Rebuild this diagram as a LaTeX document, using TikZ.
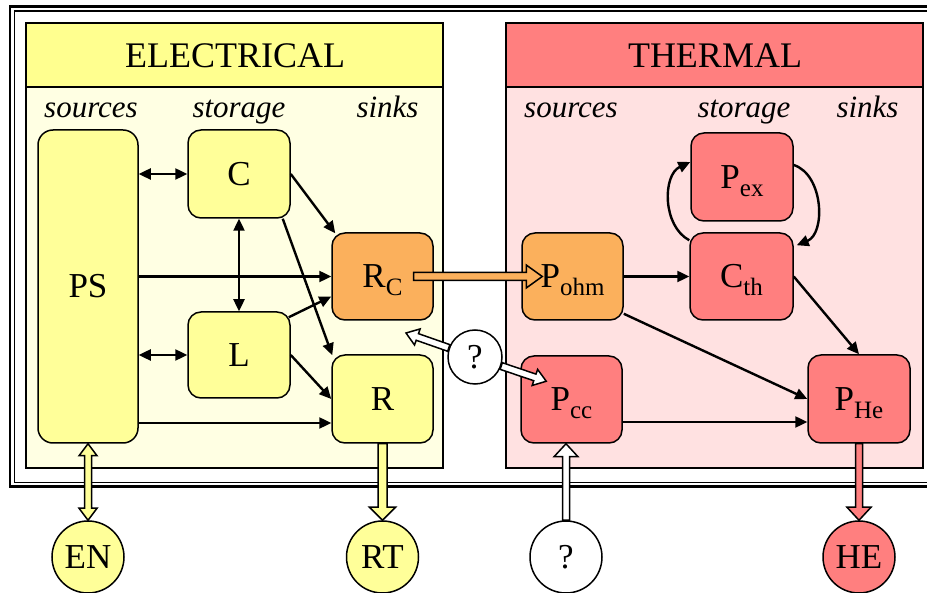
\documentclass[tikz,border=0pt]{standalone}
\usepackage{fontspec}
\setmainfont{Liberation Serif}
\newfontfamily\tnr{Liberation Serif}
\usetikzlibrary{arrows.meta,calc}
\definecolor{elhead}{HTML}{FFFF8F}
\definecolor{elbody}{HTML}{FFFFE3}
\definecolor{elnode}{HTML}{FFFF99}
\definecolor{thhead}{HTML}{FF7F7F}
\definecolor{thbody}{HTML}{FFE1E1}
\definecolor{thnode}{HTML}{FF7F7F}
\definecolor{ornode}{HTML}{FBB05C}
\newcommand\subt[1]{\raisebox{-8pt}[0pt][0pt]{\fontsize{25}{25}\selectfont #1}}
\tikzset{
 blk/.style={draw, line width=1.5pt, rounded corners=13pt, minimum width=101pt, minimum height=87pt, inner sep=0pt, font=\tnr\fontsize{35}{35}\selectfont},
 elb/.style={blk, fill=elnode}, orb/.style={blk, fill=ornode}, thb/.style={blk, fill=thnode},
 circ/.style={circle, draw, line width=1.5pt, minimum size=72pt, inner sep=0pt, font=\tnr\fontsize{35}{35}\selectfont},
 lbl/.style={font=\tnr\fontsize{31}{31}\selectfont\itshape, anchor=base},
 ttl/.style={font=\tnr\fontsize{36}{36}\selectfont, anchor=base},
 arr/.style={line width=2.4pt, -{Triangle[length=12pt,width=11pt]}},
 darr/.style={line width=2.4pt, {Triangle[length=12pt,width=11pt]}-{Triangle[length=12pt,width=11pt]}},
 fatline/.style={line width=1.5pt, line join=miter},
}
% #1 fill, #2 from, #3 to, #4 shaft half width, #5 head half width, #6 head length
\newcommand\fatarr[6]{%
 \draw[fatline, fill=#1] let \p1=(#2), \p2=(#3), \n1={atan2(\y2-\y1,\x2-\x1)} in
   ($(\p1)+(\n1+90:#4)$) -- ($(\p2)+(\n1:-#6)+(\n1+90:#4)$) -- ($(\p2)+(\n1:-#6)+(\n1+90:#5)$) -- (\p2)
   -- ($(\p2)+(\n1:-#6)+(\n1-90:#5)$) -- ($(\p2)+(\n1:-#6)+(\n1-90:#4)$) -- ($(\p1)+(\n1-90:#4)$) -- cycle;}
\newcommand\fatdarr[6]{%
 \draw[fatline, fill=#1] let \p1=(#2), \p2=(#3), \n1={atan2(\y2-\y1,\x2-\x1)} in
   ($(\p1)+(\n1:#6)+(\n1+90:#4)$) -- ($(\p2)+(\n1:-#6)+(\n1+90:#4)$) -- ($(\p2)+(\n1:-#6)+(\n1+90:#5)$) -- (\p2)
   -- ($(\p2)+(\n1:-#6)+(\n1-90:#5)$) -- ($(\p2)+(\n1:-#6)+(\n1-90:#4)$) -- ($(\p1)+(\n1:#6)+(\n1-90:#4)$)
   -- ($(\p1)+(\n1:#6)+(\n1-90:#5)$) -- (\p1) -- ($(\p1)+(\n1:#6)+(\n1+90:#5)$) -- cycle;}
\begin{document}
\begin{tikzpicture}[x=1pt,y=-1pt]
\useasboundingbox (0,0) rectangle (927,593);
\clip (0,0) rectangle (927,593);
\fill[white] (0,0) rectangle (927,593);
% outer frame
\draw[line width=2.8pt] (10,6.5) rectangle (960,486.5);
\draw[line width=1.5pt] (14.5,11) rectangle (955,482.5);
% panels
\draw[line width=1.8pt, fill=elbody] (26,23) rectangle (443,468);
\draw[line width=1.8pt, fill=elhead] (26,23) rectangle (443,87);
\draw[line width=1.8pt, fill=thbody] (506,23) rectangle (923,468);
\draw[line width=1.8pt, fill=thhead] (506,23) rectangle (923,87);
\node[ttl] (tE) at (235,68) {ELECTRICAL};
\node[ttl] (tT) at (715,68) {THERMAL};
\node[lbl] (l1) at (91,118) {sources};
\node[lbl] (l2) at (239,118) {storage};
\node[lbl] (l3) at (387.5,118) {sinks};
\node[lbl] (l4) at (571,118) {sources};
\node[lbl] (l5) at (744,118) {storage};
\node[lbl] (l6) at (867.5,118) {sinks};
% nodes
\node[elb, minimum width=100pt, minimum height=313pt, rounded corners=15pt] (PS) at (88,286.5) {PS};
\node[elb, minimum width=102pt, minimum height=88pt] (C) at (239,174) {C};
\node[elb, minimum width=102pt, minimum height=86pt] (L) at (239,355) {L};
\node[orb] (RC) at (382.5,276.5) {R\subt{C}};
\node[elb, minimum height=88pt] (R) at (382.5,399) {R};
\node[orb] (Pohm) at (572.5,276.5) {P\subt{ohm}};
\node[thb, minimum width=103pt] (Cth) at (741.5,276.5) {C\subt{th}};
\node[thb, minimum width=102pt, minimum height=88pt] (Pex) at (742,177) {P\subt{ex}};
\node[thb] (Pcc) at (571.5,399.5) {P\subt{cc}};
\node[thb, minimum width=102pt, minimum height=88pt] (PHe) at (859,399) {P\subt{He}};
% circles
\node[circ, fill=elnode] (EN) at (88,557) {EN};
\node[circ, fill=elnode] (RT) at (382.5,557) {RT};
\node[circ, fill=white] (Q2) at (566,557) {?};
\node[circ, fill=thnode] (HE) at (859,557) {HE};
\node[circ, fill=white, minimum size=54pt] (Q1) at (475,357) {?};
% electrical connectors
\draw[darr] (PS.east |- C.west) -- (C.west);
\draw[darr] (PS.east |- L.west) -- (L.west);
\draw[darr] (C.south) -- (L.north);
\draw[arr] (C.east) -- ([xshift=4pt,yshift=-1pt]RC.north west);
\draw[arr] ([xshift=-8pt]C.south east) -- ([xshift=1pt,yshift=-1pt]R.north west);
\draw[arr] (PS.east |- RC.west) -- (RC.west);
\draw[arr] ([xshift=-2pt,yshift=-6pt]L.north east) -- ([yshift=-20pt]RC.west);
\draw[arr] (L.east) -- (R.west);
\coordinate (psr) at ([yshift=-24pt]R.west);
\draw[arr] (PS.east |- psr) -- (psr);
% thermal connectors
\draw[arr] (Pohm.east) -- (Cth.west);
\draw[arr] ([yshift=7pt]Pohm.south east) -- (PHe.west);
\draw[arr] (Cth.east) -- (PHe.north);
\coordinate (pch) at ([yshift=-23pt]PHe.west);
\draw[arr] (Pcc.east |- pch) -- (pch);
\draw[arr] ([yshift=-8pt]Cth.north west) to[out=152,in=205] ([yshift=15pt]Pex.west);
\draw[arr] ([yshift=12pt]Pex.east) to[out=-18,in=22] ([xshift=3pt,yshift=-13pt]Cth.north east);
% fat arrows
\fatarr{ornode}{[xshift=31pt]RC.center}{[xshift=21pt]Pohm.west}{4pt}{11.5pt}{16pt}
\coordinate (q1a) at (406,333);
\fatarr{white}{Q1.161}{q1a}{3.5pt}{8.5pt}{12pt}
\coordinate (q1b) at ([xshift=26pt,yshift=-26pt]Pcc.north west);
\fatarr{white}{Q1.-19}{q1b}{3.5pt}{8.5pt}{12pt}
\fatdarr{elnode}{PS.south}{EN.north}{3.5pt}{9pt}{12pt}
\fatarr{elnode}{R.south}{RT.north}{4.5pt}{13pt}{13pt}
\fatarr{white}{Q2.north}{Q2.north |- Pcc.south}{3.5pt}{12pt}{13pt}
\fatarr{thnode}{PHe.south}{HE.north}{3.5pt}{12pt}{13pt}
\end{tikzpicture}
\end{document}
